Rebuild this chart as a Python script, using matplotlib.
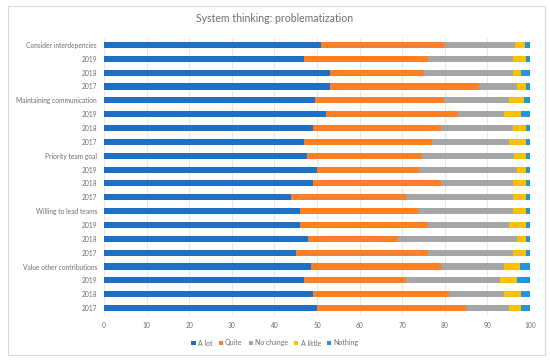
import matplotlib
matplotlib.use("Agg")
import matplotlib.pyplot as plt
from matplotlib.patches import FancyBboxPatch

plt.rcParams["font.family"] = ["Lato", "DejaVu Sans"]

categories = ["Consider interdepencies", "2019", "2018", "2017",
              "Maintaining communication", "2019", "2018", "2017",
              "Priority team goal", "2019", "2018", "2017",
              "Willing to lead teams", "2019", "2018", "2017",
              "Value other contributions", "2019", "2018", "2017"]

a_lot     = [51.0, 47, 53, 53, 49.5, 52, 49, 47, 47.7, 50, 49, 44, 46.0, 46, 48, 45, 48.7, 47, 49, 50]
quite     = [29.0, 29, 22, 35, 30.3, 31, 30, 30, 27.0, 24, 30, 27, 27.7, 30, 21, 31, 30.3, 24, 32, 35]
no_change = [16.5, 20, 21, 9, 15.3, 11, 17, 18, 21.6, 23, 17, 25, 22.2, 19, 28, 20, 15.0, 22, 13, 10]
a_little  = [2.3, 3, 2, 2, 3.5, 4, 3, 4, 2.7, 2, 3, 3, 3.1, 4, 2, 3, 3.7, 4, 4, 3]
nothing   = [1.2, 1, 2, 1, 1.4, 2, 1, 1, 1.0, 1, 1, 1, 1.0, 1, 1, 1, 2.3, 3, 2, 2]

series = [("A lot", a_lot, "#1F6FC5"),
          ("Quite", quite, "#FF7F27"),
          ("No change", no_change, "#A5A5A5"),
          ("A little", a_little, "#FFC000"),
          ("Nothing", nothing, "#2196DD")]

fig = plt.figure(figsize=(5.5, 3.61), dpi=100)
ax = fig.add_axes([104/550, 1 - 315/361, 426/550, 277/361])

y = list(range(len(categories)))
left = [0.0] * len(categories)
for name, vals, col in series:
    ax.barh(y, vals, left=left, height=0.44, color=col, label=name, zorder=3)
    left = [l + v for l, v in zip(left, vals)]

ax.set_ylim(len(categories) - 0.5, -0.5)
ax.set_xlim(0, 100)
ax.set_xticks(range(0, 101, 10))
ax.set_yticks(y)
ax.set_yticklabels(categories)
ax.tick_params(axis="both", length=0, labelsize=4.8, colors="#6E6E6E", pad=5)
ax.grid(axis="x", color="#E3E3E3", linewidth=0.6, zorder=0)
for s in ax.spines.values():
    s.set_visible(False)

fig.text(0.5, 1 - 18/361, "System thinking: problematization", ha="center", va="center",
         fontsize=7.6, color="#6E6E6E")

leg = fig.legend(loc="center", bbox_to_anchor=(0.5, 1 - 343/361), ncol=5, frameon=False,
                 fontsize=5.0, handlelength=0.6, handleheight=0.6, handletextpad=0.3,
                 columnspacing=0.9, labelcolor="#6E6E6E")

border = FancyBboxPatch((8/550, 6/361), 537/550, 349/361, boxstyle="square,pad=0",
                        transform=fig.transFigure, fill=False, edgecolor="#D9D9D9", linewidth=0.8)
fig.patches.append(border)

fig.savefig("out.png", dpi=100)
